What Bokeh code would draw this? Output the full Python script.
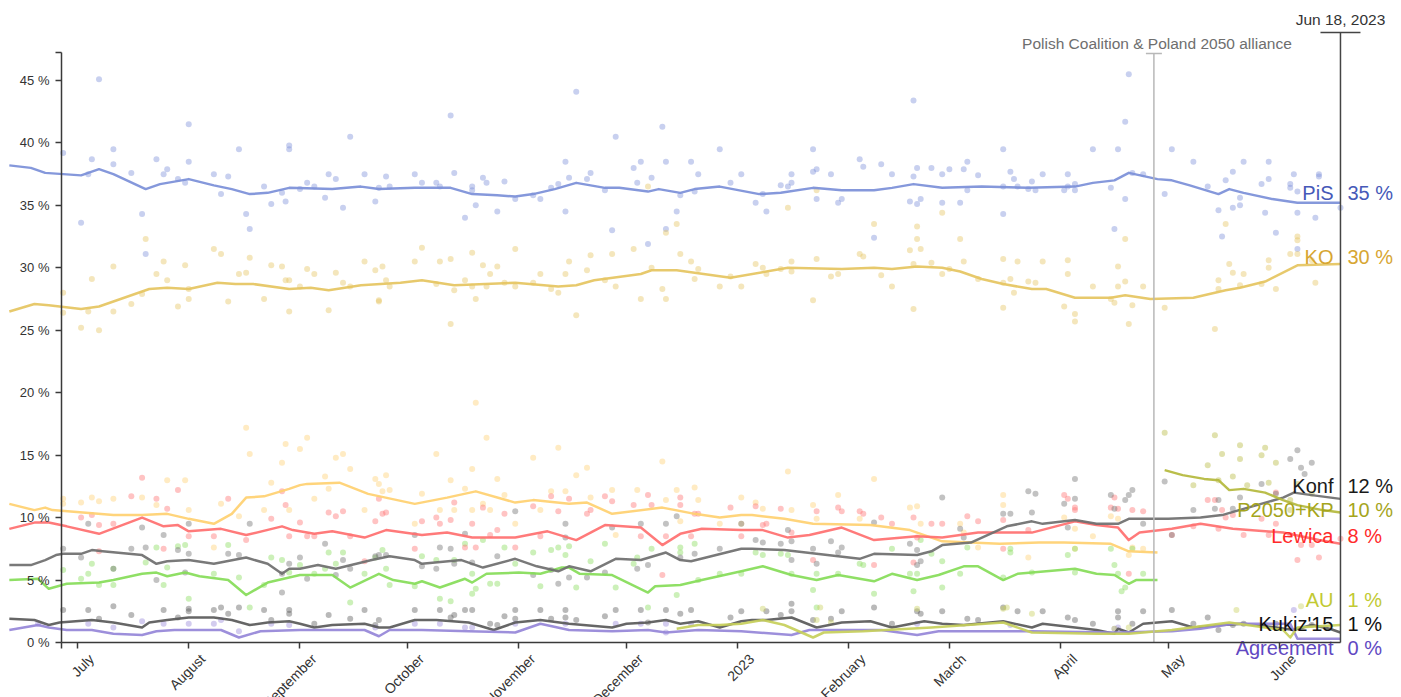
import math
from datetime import datetime, timedelta
from bokeh.plotting import figure
from bokeh.models import Range1d, LinearAxis, FixedTicker, CustomJSTickFormatter, ColumnDataSource
from bokeh.embed import file_html
from bokeh.resources import INLINE
from bokeh.core.properties import value

# ---------------------------------------------------------------- data
BASE_DATE = "2022-07-01"          # poll/trend days are counted from this date
LAST_DATE = "2023-06-18"
ALLIANCE_DATE = "2023-04-27"
ALLIANCE_TEXT = "Polish Coalition & Poland 2050 alliance"

month_ticks = ["2022-07-01", "2022-08-01", "2022-09-01", "2022-10-01", "2022-11-01", "2022-12-01",
               "2023-01-01", "2023-02-01", "2023-03-01", "2023-04-01", "2023-05-01", "2023-06-01"]
month_labels = ["July", "August", "September", "October", "November", "December",
                "2023", "February", "March", "April", "May", "June"]
y_ticks = [0, 5, 10, 15, 20, 25, 30, 35, 40, 45]

# --- PiS
pis_trend_day = [-19, -13, -9, -4, 1, 6, 10, 19, 23, 31, 38, 43, 48, 53, 59, 71, 79, 84, 94, 104,
                 110, 117, 122, 127, 133, 139, 147, 151, 159, 162, 168, 172, 179, 190, 196, 205, 213, 222, 227, 233,
                 241, 252, 265, 278, 283, 289, 293, 301, 305, 310, 318, 321, 325, 333, 340, 352]
pis_trend_val = [38.2, 38.0, 37.6, 37.5, 37.4, 37.9, 37.5, 36.3, 36.7, 37.1, 36.6, 36.3, 35.9, 36.0, 36.4, 36.3, 36.5, 36.3, 36.4, 36.4,
                 35.9, 35.8, 35.7, 35.9, 36.3, 36.8, 36.4, 36.4, 36.1, 36.3, 36.0, 36.3, 36.5, 35.9, 36.0, 36.4, 36.2, 36.2, 36.4, 36.7,
                 36.4, 36.5, 36.4, 36.5, 36.8, 37.0, 37.6, 37.1, 37.0, 36.6, 35.9, 36.3, 36.0, 35.5, 35.2, 35.2]
pis_poll_day = [-4, 1, 3, 4, 6, 10, 10, 15, 18, 19,
                22, 24, 25, 28, 30, 31, 31, 38, 40, 42,
                45, 47, 48, 52, 54, 57, 58, 59, 59, 62,
                64, 66, 69, 70, 72, 74, 76, 80, 83, 84,
                86, 87, 94, 96, 100, 101, 104, 105, 108, 110,
                110, 111, 113, 114, 117, 119, 122, 127, 129, 132,
                134, 136, 136, 137, 139, 142, 143, 147, 149, 150,
                155, 156, 157, 159, 160, 163, 164, 164, 167, 168,
                171, 172, 173, 179, 182, 185, 189, 191, 192, 196,
                198, 199, 199, 205, 205, 206, 206, 210, 212, 213,
                218, 219, 222, 224, 227, 232, 233, 233, 234, 234,
                235, 238, 241, 241, 243, 246, 247, 248, 248, 251,
                258, 258, 258, 260, 261, 262, 265, 266, 267, 269,
                275, 276, 276, 278, 278, 283, 288, 289, 290, 292,
                292, 293, 294, 297, 303, 305, 311, 315, 318, 319,
                320, 322, 322, 324, 324, 325, 330, 331, 332, 332,
                334, 338, 338, 339, 340, 340, 340, 345, 346, 346,
                352]
pis_poll_val = [39.2, 33.6, 37.5, 38.7, 45.1, 39.5, 38.3, 37.6, 34.3, 31.1,
                38.7, 37.5, 37.9, 37.1, 36.8, 38.5, 41.5, 37.5, 35.9, 37.3,
                39.5, 34.3, 33.1, 36.5, 35.1, 36.0, 35.3, 39.8, 39.5, 36.3,
                36.8, 36.5, 35.6, 37.5, 37.1, 34.8, 40.5, 37.5, 35.3, 36.4,
                37.3, 36.5, 37.5, 36.8, 36.8, 36.5, 42.2, 37.6, 34.0, 36.5,
                36.2, 35.0, 37.2, 36.8, 34.5, 36.9, 35.5, 35.8, 35.5, 36.4,
                36.7, 38.5, 34.5, 37.2, 44.1, 37.1, 37.6, 36.2, 33.0, 40.5,
                38.0, 36.8, 38.5, 31.9, 37.2, 41.3, 38.5, 33.1, 34.5, 35.8,
                38.5, 36.1, 37.5, 39.5, 36.8, 37.5, 35.2, 35.9, 34.5, 36.6,
                36.5, 37.5, 36.8, 39.5, 37.7, 37.9, 35.5, 37.5, 35.2, 35.5,
                38.7, 38.1, 32.4, 38.3, 37.5, 35.3, 43.4, 37.3, 38.0, 35.1,
                35.5, 38.0, 37.5, 35.2, 37.9, 35.2, 37.9, 38.5, 36.2, 37.4,
                39.5, 36.5, 34.3, 37.7, 37.1, 36.5, 36.3, 36.9, 36.2, 37.5,
                36.2, 37.5, 36.5, 36.2, 36.7, 39.5, 36.4, 33.1, 39.5, 41.7,
                35.5, 45.5, 37.6, 37.5, 35.9, 39.5, 38.5, 36.5, 34.6, 32.5,
                37.0, 37.7, 34.8, 35.6, 35.0, 38.5, 36.7, 34.4, 38.5, 37.1,
                32.8, 36.7, 36.4, 37.5, 36.1, 34.4, 31.5, 34.0, 37.5, 37.3,
                34.8]

# --- KO
ko_trend_day = [-19, -12, -8, 1, 6, 12, 20, 25, 31, 39, 44, 49, 59, 65, 70, 79, 90, 96, 105, 122,
                134, 139, 144, 157, 160, 167, 182, 198, 213, 222, 227, 234, 241, 246, 252, 258, 266, 270, 278, 288,
                292, 299, 311, 320, 324, 331, 340, 352]
ko_trend_val = [26.5, 27.1, 27.0, 26.7, 26.9, 27.5, 28.3, 28.4, 28.3, 28.8, 28.7, 28.7, 28.3, 28.4, 28.2, 28.6, 28.8, 29.0, 28.6, 28.8,
                28.5, 28.6, 29.0, 29.5, 29.8, 29.8, 29.2, 30.0, 29.9, 30.0, 29.9, 30.1, 30.0, 29.7, 29.1, 28.7, 28.3, 28.3, 27.6, 27.6,
                27.8, 27.5, 27.6, 28.2, 28.4, 28.9, 30.2, 30.3]
ko_poll_day = [-4, -4, 1, 3, 4, 6, 10, 10, 15, 18,
               19, 22, 24, 25, 28, 30, 31, 31, 38, 40,
               42, 45, 47, 48, 52, 54, 57, 58, 59, 59,
               62, 64, 66, 70, 72, 74, 76, 80, 83, 84,
               84, 85, 86, 87, 94, 96, 100, 101, 104, 104,
               105, 108, 110, 110, 111, 113, 114, 115, 117, 119,
               122, 122, 127, 129, 132, 134, 136, 137, 139, 142,
               143, 147, 149, 150, 155, 157, 159, 160, 163, 164,
               164, 167, 168, 171, 172, 173, 179, 182, 185, 189,
               191, 192, 196, 198, 199, 199, 205, 206, 206, 210,
               212, 218, 219, 222, 224, 227, 232, 233, 233, 234,
               234, 235, 238, 241, 241, 243, 246, 247, 251, 258,
               258, 258, 260, 261, 262, 265, 267, 269, 275, 276,
               276, 278, 278, 283, 288, 289, 290, 290, 292, 292,
               293, 294, 297, 303, 317, 318, 318, 320, 321, 322,
               324, 325, 330, 332, 332, 334, 338, 340, 340, 340,
               344, 345]
ko_poll_val = [28.0, 26.4, 25.2, 26.5, 29.1, 25.0, 30.1, 26.5, 27.1, 27.9,
               32.3, 29.5, 30.5, 29.0, 26.9, 30.2, 28.3, 27.5, 31.5, 31.1,
               27.3, 29.5, 29.6, 30.8, 27.5, 30.2, 30.1, 29.0, 29.0, 26.5,
               28.5, 29.9, 29.5, 26.6, 29.6, 28.8, 28.5, 30.5, 29.8, 27.3,
               27.4, 30.1, 29.0, 28.5, 30.5, 31.6, 28.7, 30.5, 30.7, 25.5,
               28.2, 29.0, 31.2, 28.5, 27.5, 30.2, 28.5, 29.5, 30.1, 28.8,
               31.5, 28.5, 28.8, 29.5, 28.3, 28.0, 29.5, 30.5, 26.2, 29.8,
               31.0, 29.0, 31.1, 28.5, 31.5, 27.5, 36.5, 30.0, 28.3, 27.5,
               32.8, 33.5, 31.1, 30.5, 29.1, 29.9, 28.5, 29.3, 28.5, 30.3,
               30.0, 29.5, 29.9, 34.8, 30.5, 29.7, 27.4, 30.7, 36.2, 29.3,
               29.5, 31.1, 30.9, 33.5, 29.4, 28.5, 31.4, 26.7, 30.3, 33.3,
               32.3, 31.5, 30.4, 29.5, 34.4, 29.9, 32.3, 30.5, 29.1, 30.7,
               28.8, 26.8, 29.1, 28.0, 30.5, 28.9, 28.8, 30.5, 26.9, 30.6,
               29.5, 26.3, 25.7, 28.5, 27.5, 27.2, 30.1, 28.5, 32.3, 28.9,
               25.5, 27.0, 28.5, 26.8, 25.1, 29.0, 28.3, 33.5, 30.3, 29.6,
               28.6, 29.5, 28.7, 30.6, 30.0, 28.3, 31.1, 32.5, 32.2, 31.1,
               30.6, 28.8]

# --- Poland 2050 (until the alliance)
p2050_trend_day = [-19, -12, -9, -7, 10, 18, 25, 31, 38, 43, 47, 52, 59, 62, 64, 73, 81, 94, 103, 111,
                   122, 127, 137, 142, 149, 163, 172, 179, 185, 188, 197, 205, 221, 232, 241, 257, 268, 275, 288, 293,
                   301]
p2050_trend_val = [11.1, 10.6, 10.8, 10.6, 10.2, 10.2, 10.3, 9.9, 9.5, 10.3, 11.6, 11.7, 12.3, 12.6, 12.7, 12.8, 11.9, 11.1, 11.6, 12.1,
                   11.2, 11.4, 11.1, 11.2, 10.3, 10.8, 10.3, 10.0, 10.2, 10.2, 9.9, 9.5, 9.4, 9.0, 8.1, 7.9, 8.0, 8.0, 7.9, 7.3,
                   7.2]
p2050_poll_day = [-4, -4, 1, 4, 6, 10, 18, 22, 25, 30,
                  31, 38, 40, 45, 47, 48, 52, 54, 57, 58,
                  59, 62, 64, 66, 69, 70, 72, 74, 76, 80,
                  83, 84, 85, 86, 87, 94, 96, 100, 101, 104,
                  105, 108, 110, 110, 111, 113, 114, 115, 117, 119,
                  122, 127, 129, 132, 134, 136, 139, 142, 143, 149,
                  150, 156, 163, 164, 167, 168, 172, 173, 179, 185,
                  185, 189, 191, 198, 199, 205, 206, 212, 218, 222,
                  232, 234, 235, 246, 247, 251, 258, 258, 265, 275,
                  278, 278, 283, 288, 290, 293, 294, 297]
p2050_poll_val = [11.5, 11.1, 11.2, 11.6, 11.3, 11.5, 11.6, 11.0, 13.0, 13.0,
                  10.6, 7.6, 11.1, 10.1, 17.2, 15.1, 10.6, 12.8, 14.4, 15.9,
                  10.6, 15.5, 16.4, 11.5, 13.3, 12.3, 14.8, 15.1, 13.9, 10.6,
                  13.1, 12.7, 12.1, 13.4, 12.2, 9.5, 11.9, 15.1, 10.6, 13.0,
                  10.6, 12.3, 13.9, 10.6, 19.2, 11.1, 16.4, 10.6, 13.1, 11.8,
                  9.5, 14.8, 10.6, 12.1, 15.6, 12.1, 13.4, 14.0, 11.6, 12.2,
                  8.6, 12.2, 14.5, 11.4, 12.2, 9.7, 12.4, 11.4, 9.5, 9.5,
                  11.6, 11.2, 10.7, 13.7, 10.6, 11.0, 9.9, 11.8, 9.9, 13.1,
                  10.8, 10.9, 9.5, 9.5, 8.8, 7.6, 11.8, 11.0, 6.8, 10.0,
                  9.1, 7.5, 8.5, 10.1, 9.9, 7.0, 7.6, 7.5]

# --- Lewica
lewica_trend_day = [-19, -12, -8, -3, 6, 18, 24, 28, 31, 40, 47, 57, 60, 66, 71, 80, 86, 96, 103, 110,
                    122, 131, 139, 147, 157, 163, 168, 174, 185, 191, 198, 204, 213, 222, 234, 241, 251, 266, 278, 284,
                    290, 293, 296, 305, 313, 322, 336, 346, 352]
lewica_trend_val = [9.1, 9.6, 9.6, 9.3, 8.7, 10.0, 9.3, 9.4, 8.9, 9.1, 8.6, 9.3, 9.0, 8.7, 8.9, 8.4, 9.0, 8.6, 8.8, 8.4,
                    8.4, 8.9, 8.2, 9.4, 9.2, 7.8, 8.7, 9.1, 9.0, 9.0, 8.4, 8.6, 9.2, 8.2, 8.5, 8.4, 8.8, 8.8, 9.7, 9.4,
                    9.2, 8.2, 8.8, 9.1, 9.5, 9.1, 8.8, 8.2, 7.9]
lewica_poll_day = [1, 4, 6, 6, 10, 15, 18, 22, 24, 25,
                   28, 31, 38, 42, 47, 54, 57, 58, 59, 62,
                   64, 66, 70, 72, 74, 76, 80, 83, 84, 85,
                   86, 94, 96, 100, 101, 104, 105, 108, 110, 111,
                   113, 115, 117, 119, 122, 127, 129, 132, 134, 137,
                   142, 143, 147, 149, 155, 157, 159, 160, 163, 164,
                   168, 168, 171, 172, 173, 182, 185, 189, 191, 192,
                   196, 199, 205, 206, 212, 213, 218, 219, 222, 224,
                   227, 233, 233, 234, 238, 241, 248, 251, 258, 258,
                   265, 275, 276, 278, 278, 288, 289, 290, 293, 294,
                   297, 305, 311, 315, 317, 318, 319, 320, 322, 325,
                   330, 332, 334, 334, 338, 340, 341, 344, 346, 352]
lewica_poll_val = [10.0, 10.2, 9.4, 7.3, 9.5, 11.7, 13.2, 11.5, 7.5, 10.7,
                   12.2, 8.5, 8.5, 11.5, 8.2, 9.9, 12.1, 11.0, 8.5, 9.6,
                   8.5, 8.5, 10.4, 10.1, 10.5, 8.5, 6.5, 9.7, 11.5, 10.3,
                   10.4, 7.5, 9.7, 10.0, 9.5, 9.8, 11.2, 7.6, 9.5, 7.6,
                   10.8, 8.6, 9.0, 10.3, 7.6, 10.9, 8.5, 11.7, 10.5, 11.5,
                   10.3, 10.6, 11.7, 11.3, 11.0, 8.5, 11.8, 11.0, 5.4, 8.5,
                   11.6, 11.0, 8.5, 10.3, 10.3, 10.8, 8.5, 10.9, 9.4, 9.5,
                   10.7, 8.8, 6.6, 10.5, 10.8, 10.5, 10.5, 10.3, 6.2, 10.0,
                   9.5, 10.0, 6.4, 8.4, 9.5, 9.5, 10.1, 9.7, 9.8, 7.5,
                   9.0, 11.8, 11.5, 10.8, 10.6, 10.8, 11.6, 10.7, 5.5, 10.6,
                   10.5, 8.6, 9.3, 11.4, 11.4, 9.1, 10.6, 10.0, 10.2, 8.6,
                   9.9, 8.6, 12.0, 9.5, 8.6, 6.6, 7.8, 7.8, 6.8, 8.3]

# --- Konfederacja
konf_trend_day = [-19, -13, -9, -6, -4, 1, 4, 7, 18, 22, 25, 31, 38, 47, 53, 57, 59, 62, 67, 72,
                  82, 87, 94, 96, 107, 113, 122, 128, 134, 137, 143, 150, 157, 164, 168, 171, 185, 188, 197, 206,
                  218, 222, 234, 238, 241, 249, 259, 266, 269, 278, 284, 290, 293, 304, 313, 319, 325, 336, 339, 344,
                  352]
konf_trend_val = [6.2, 6.2, 6.6, 7.0, 7.1, 7.1, 7.4, 7.3, 7.0, 6.3, 6.5, 6.6, 6.3, 6.8, 6.3, 5.5, 5.9, 5.9, 6.2, 5.9,
                  6.6, 6.9, 6.6, 6.3, 6.6, 6.0, 6.7, 6.1, 5.7, 6.1, 5.7, 6.7, 6.6, 7.2, 6.6, 6.5, 7.5, 7.5, 7.4, 7.1,
                  6.7, 7.1, 7.0, 7.3, 7.8, 8.0, 9.3, 9.7, 9.5, 9.8, 9.5, 9.5, 9.9, 9.9, 10.0, 10.2, 10.7, 11.6, 12.0, 11.8,
                  11.5]
konf_poll_day = [-4, 1, 3, 10, 15, 18, 19, 22, 24, 28,
                 30, 31, 31, 42, 45, 48, 57, 57, 59, 62,
                 64, 69, 72, 74, 76, 83, 84, 86, 94, 96,
                 100, 101, 104, 105, 108, 110, 117, 122, 127, 132,
                 134, 136, 136, 137, 142, 147, 149, 156, 157, 159,
                 164, 167, 168, 172, 179, 185, 189, 191, 196, 198,
                 199, 199, 205, 206, 210, 212, 213, 222, 232, 234,
                 234, 235, 241, 246, 247, 258, 260, 265, 266, 267,
                 275, 276, 278, 278, 288, 289, 292, 293, 294, 297,
                 303, 305, 311, 317, 318, 322, 324, 330, 334, 338,
                 340, 341, 342, 344]
konf_poll_val = [7.5, 6.8, 9.5, 5.9, 7.5, 9.2, 7.6, 5.0, 8.6, 7.4,
                 5.6, 9.5, 7.1, 7.1, 7.0, 9.5, 4.0, 5.5, 6.3, 6.8,
                 5.1, 7.9, 5.4, 6.6, 5.9, 6.9, 7.0, 7.0, 8.6, 6.1,
                 5.9, 7.6, 7.5, 6.3, 8.7, 6.4, 6.9, 10.5, 5.4, 5.8,
                 4.7, 9.5, 8.4, 5.2, 5.2, 5.6, 9.2, 5.9, 9.5, 6.2,
                 9.5, 10.1, 6.8, 7.1, 7.5, 9.5, 8.2, 8.0, 7.9, 9.0,
                 8.1, 6.6, 7.5, 6.3, 8.1, 7.2, 7.6, 9.6, 7.9, 7.4,
                 6.2, 6.5, 11.6, 9.1, 8.4, 10.3, 10.3, 12.1, 10.4, 11.9,
                 11.1, 9.2, 13.1, 11.5, 11.8, 10.7, 11.4, 11.8, 12.2, 9.5,
                 12.9, 8.6, 10.6, 10.7, 11.4, 10.7, 11.6, 12.7, 11.9, 14.7,
                 15.4, 14.0, 13.5, 14.4]

# --- Poland 2050 + Polish Coalition (after the alliance)
p2050kp_trend_day = [303, 308, 314, 318, 321, 325, 331, 336, 340, 347, 352]
p2050kp_trend_val = [13.8, 13.4, 13.1, 13.0, 12.2, 12.3, 12.0, 11.4, 11.0, 10.6, 10.4]
p2050kp_poll_day = [303, 311, 315, 317, 318, 319, 322, 324, 324, 326,
                    330, 331, 332, 334, 338, 338, 340, 344]
p2050kp_poll_val = [16.8, 12.6, 14.2, 16.6, 13.0, 15.1, 13.3, 15.8, 14.7, 12.6,
                    15.0, 15.6, 12.8, 14.4, 11.4, 10.6, 12.7, 11.9]

# --- PSL (until the alliance)
psl_trend_day = [-19, -11, -8, -3, 6, 10, 18, 22, 25, 30, 34, 42, 47, 53, 59, 62, 64, 71, 76, 84,
                 88, 94, 96, 101, 108, 110, 114, 123, 129, 135, 137, 140, 149, 154, 159, 161, 168, 174, 185, 191,
                 199, 206, 212, 222, 227, 234, 240, 247, 251, 258, 262, 278, 284, 289, 293, 295, 301]
psl_trend_val = [5.0, 5.1, 4.3, 4.7, 4.8, 5.0, 5.5, 5.6, 5.3, 5.6, 5.3, 5.0, 3.8, 4.8, 5.2, 5.4, 5.4, 5.4, 4.4, 5.5,
                 5.0, 4.7, 4.9, 4.4, 5.1, 4.8, 5.5, 5.6, 5.5, 6.0, 6.0, 5.5, 5.4, 4.7, 4.0, 4.5, 4.6, 5.0, 5.7, 6.1,
                 5.4, 5.0, 5.4, 4.9, 5.5, 5.0, 5.4, 6.1, 6.1, 5.0, 5.5, 5.9, 5.5, 5.4, 4.7, 5.0, 5.0]
psl_poll_day = [-4, 1, 3, 4, 6, 10, 10, 19, 22, 24,
                25, 28, 30, 31, 38, 42, 45, 48, 52, 54,
                57, 59, 62, 66, 69, 70, 72, 74, 76, 80,
                83, 85, 86, 87, 94, 96, 100, 101, 104, 105,
                108, 110, 110, 111, 113, 115, 117, 119, 122, 127,
                129, 132, 134, 136, 137, 139, 143, 147, 150, 155,
                156, 159, 160, 167, 168, 168, 172, 173, 179, 185,
                189, 191, 196, 198, 199, 205, 206, 206, 212, 218,
                219, 222, 227, 232, 233, 234, 235, 238, 241, 241,
                246, 248, 258, 260, 260, 266, 276, 278, 278, 288,
                289, 290, 291, 292, 294, 297]
psl_poll_val = [5.8, 5.1, 5.5, 6.3, 4.6, 5.9, 4.6, 6.4, 7.6, 4.6,
                6.0, 7.7, 7.8, 3.5, 5.5, 7.8, 5.2, 2.8, 4.6, 6.8,
                6.6, 5.6, 6.2, 5.5, 5.9, 7.2, 6.3, 7.2, 3.2, 5.5,
                6.8, 7.4, 5.9, 4.6, 4.5, 6.9, 6.6, 3.5, 3.3, 6.6,
                7.9, 5.5, 3.9, 4.3, 8.2, 4.7, 4.7, 7.6, 6.3, 7.2,
                4.5, 7.4, 7.6, 7.0, 7.7, 4.4, 6.5, 7.9, 4.4, 6.3,
                6.8, 2.8, 7.5, 3.8, 7.6, 7.2, 7.9, 5.0, 5.5, 5.5,
                7.2, 7.0, 7.1, 7.0, 5.5, 4.2, 5.5, 2.8, 5.5, 6.3,
                6.2, 3.9, 7.5, 5.5, 4.1, 5.5, 8.2, 7.1, 6.5, 4.4,
                5.5, 7.6, 5.2, 7.5, 7.2, 5.6, 7.0, 5.6, 7.5, 7.5,
                6.2, 5.5, 4.1, 4.4, 7.5, 5.5]

# --- Kukiz'15
kukiz_trend_day = [-19, -12, -8, -5, 4, 10, 18, 20, 25, 31, 38, 43, 48, 53, 59, 62, 66, 71, 80, 84,
                   87, 94, 100, 109, 116, 122, 129, 137, 149, 153, 159, 164, 168, 173, 179, 185, 188, 192, 199, 206,
                   213, 221, 227, 236, 241, 247, 258, 266, 269, 284, 289, 290, 293, 297, 305, 311, 319, 325, 334, 339,
                   344, 349, 352]
kukiz_trend_val = [1.9, 1.8, 1.4, 1.6, 1.8, 1.6, 1.2, 1.6, 1.8, 2.0, 2.0, 1.8, 1.4, 1.6, 1.7, 1.5, 1.2, 1.4, 1.5, 1.2,
                   1.2, 1.8, 1.8, 1.6, 1.0, 1.6, 1.8, 1.5, 1.2, 1.5, 1.6, 1.8, 1.5, 1.7, 1.2, 1.7, 1.8, 1.8, 2.0, 1.2,
                   1.6, 1.7, 1.2, 1.7, 1.5, 1.4, 1.7, 1.2, 1.5, 1.0, 0.7, 1.1, 0.8, 1.5, 1.7, 1.2, 1.4, 1.5, 1.2, 1.0,
                   1.4, 1.1, 0.8]
kukiz_poll_day = [-4, 3, 6, 10, 15, 24, 28, 31, 31, 38,
                  40, 42, 45, 52, 54, 59, 59, 66, 70, 76,
                  80, 83, 84, 94, 101, 104, 105, 108, 110, 115,
                  117, 119, 122, 122, 129, 132, 136, 136, 139, 147,
                  150, 157, 159, 164, 168, 171, 182, 185, 192, 196,
                  199, 199, 205, 210, 213, 222, 227, 234, 235, 241,
                  248, 251, 258, 262, 269, 276, 278, 283, 290, 290,
                  294, 297, 305, 311, 315, 318, 322, 325, 331, 334,
                  344]
kukiz_poll_val = [2.6, 2.6, 1.9, 2.9, 2.2, 2.6, 2.0, 2.7, 2.5, 2.6,
                  2.8, 2.3, 2.8, 2.6, 1.8, 2.6, 2.3, 1.5, 2.2, 1.9,
                  2.6, 1.4, 1.8, 2.6, 2.6, 2.0, 2.2, 2.6, 2.6, 1.5,
                  1.4, 2.1, 2.6, 1.9, 2.6, 1.9, 2.6, 2.0, 1.8, 2.1,
                  2.6, 2.6, 1.6, 2.6, 2.3, 2.6, 2.0, 2.5, 2.5, 2.2,
                  3.1, 2.5, 1.8, 1.9, 2.5, 2.8, 1.5, 2.5, 2.3, 2.5,
                  1.9, 1.8, 2.8, 2.5, 2.5, 2.0, 1.8, 1.5, 2.5, 2.0,
                  1.5, 2.5, 2.6, 1.5, 2.0, 1.0, 1.4, 1.5, 1.4, 1.5,
                  1.4]

# --- Agreement (Porozumienie)
agree_trend_day = [-19, -11, -8, -3, 4, 10, 18, 22, 27, 40, 45, 51, 62, 75, 80, 84, 87, 96, 109, 122,
                   129, 137, 149, 159, 164, 173, 185, 199, 204, 224, 234, 240, 266, 289, 305, 313, 322, 338, 340, 352]
agree_trend_val = [1.0, 1.4, 1.2, 1.0, 1.0, 0.7, 0.6, 0.9, 1.0, 1.0, 0.4, 0.9, 1.0, 1.0, 1.0, 0.5, 1.0, 1.0, 0.9, 0.8,
                   1.5, 1.0, 0.9, 1.0, 0.8, 1.0, 0.9, 0.6, 1.0, 1.0, 0.6, 0.9, 0.9, 0.8, 0.9, 1.1, 1.5, 1.5, 0.3, 0.3]
agree_poll_day = [-11, 3, 10, 18, 24, 31, 38, 40, 45, 54,
                  59, 83, 94, 101, 108, 110, 122, 136, 150, 157,
                  164, 164, 171, 234, 260, 289, 290, 339]
agree_poll_val = [1.5, 1.5, 1.2, 1.7, 1.5, 1.5, 1.5, 1.8, 0.9, 1.5,
                  1.4, 1.2, 1.5, 1.5, 1.2, 1.2, 1.5, 1.5, 1.5, 1.5,
                  1.5, 0.8, 1.5, 1.5, 1.4, 1.1, 1.2, 2.6]

# --- AU (Agrounia)
au_trend_day = [167, 173, 179, 185, 191, 197, 205, 208, 219, 238, 258, 266, 284, 293, 305, 321, 336, 338, 340, 352]
au_trend_val = [1.1, 1.4, 1.4, 1.5, 1.8, 1.4, 0.4, 0.8, 0.9, 1.2, 1.6, 0.8, 0.7, 0.7, 1.0, 1.6, 1.0, 0.4, 1.2, 1.4]
au_poll_day = [191, 206, 207, 210, 234, 258, 259, 266, 289, 293, 323, 341]
au_poll_val = [2.7, 1.8, 2.8, 1.6, 2.7, 2.7, 2.8, 2.3, 1.1, 1.2, 2.6, 2.9]

# ---------------------------------------------------------------- styles / layout
FONT = "Liberation Sans"
W, H = 1401, 697
PX_PER_DAY = 3.588
PX_PER_PCT = 12.49
X_BASE_PX = 77.0       # BASE_DATE sits this far from the frame's left edge
Y_ZERO_PX = 642.0      # 0 % sits this far below the frame's top edge
YAXIS_PX = 61.0        # position of the y axis inside the frame
Y_AXIS_TOP = 47.24
ALLI_TOP = 47.16
LAST_TOP = 48.84

series = [
    # key, trend days, trend vals, poll days, poll vals, line colour, label, label colour, label y
    ("pis", pis_trend_day, pis_trend_val, pis_poll_day, pis_poll_val, "#7b8fd8", "PiS", "#4659b8", 35.95),
    ("ko", ko_trend_day, ko_trend_val, ko_poll_day, ko_poll_val, "#e5c45f", "KO", "#d7a632", 30.85),
    ("p2050", p2050_trend_day, p2050_trend_val, p2050_poll_day, p2050_poll_val, "#ffd070", None, None, None),
    ("psl", psl_trend_day, psl_trend_val, psl_poll_day, psl_poll_val, "#86dc58", None, None, None),
    ("lewica", lewica_trend_day, lewica_trend_val, lewica_poll_day, lewica_poll_val, "#ff6f6f", "Lewica", "#ff2a2a", 8.49),
    ("konf", konf_trend_day, konf_trend_val, konf_poll_day, konf_poll_val, "#6e6e6e", "Konf", "#1a1a1a", 12.57),
    ("kukiz", kukiz_trend_day, kukiz_trend_val, kukiz_poll_day, kukiz_poll_val, "#595959", "Kukiz'15", "#111111", 1.52),
    ("agree", agree_trend_day, agree_trend_val, agree_poll_day, agree_poll_val, "#9585d8", "Agreement", "#6148c2", -0.48),
    ("au", au_trend_day, au_trend_val, au_poll_day, au_poll_val, "#c7cf5a", "AU", "#c2ca34", 3.44),
    ("p2050kp", p2050kp_trend_day, p2050kp_trend_val, p2050kp_poll_day, p2050kp_poll_val, "#b4b83c", "P2050+KP", "#a5a51c", 10.57),
]

base = datetime.fromisoformat(BASE_DATE)
EPOCH = datetime(1970, 1, 1)


def ddate(d):
    return base + timedelta(days=d)


def dates(days):
    return [ddate(d) for d in days]


def ms(t):
    return (t - EPOCH).total_seconds() * 1000.0


x_start = ddate(-X_BASE_PX / PX_PER_DAY)
x_end = ddate((W - X_BASE_PX) / PX_PER_DAY)
y_end = Y_ZERO_PX / PX_PER_PCT
y_start = -(H - Y_ZERO_PX) / PX_PER_PCT
yaxis_t = ddate((YAXIS_PX - X_BASE_PX) / PX_PER_DAY)
last_t = datetime.fromisoformat(LAST_DATE)
alli_t = datetime.fromisoformat(ALLIANCE_DATE)
month_t = [datetime.fromisoformat(s) for s in month_ticks]

p = figure(width=W, height=H, x_range=Range1d(x_start, x_end), y_range=Range1d(y_start, y_end),
           x_axis_type=None, y_axis_type=None, output_backend="svg", toolbar_location=None,
           min_border=0)
p.outline_line_color = None
p.background_fill_color = "white"
p.border_fill_color = "white"

# axes ------------------------------------------------------------
ytick_fmt = CustomJSTickFormatter(code="""
const k = Math.round(tick / 5) * 5;
return Math.abs(tick - k) < 1e-6 ? k.toFixed(0) + " %" : "";
""")
yaxis = LinearAxis(fixed_location=ms(yaxis_t), bounds=(0, Y_AXIS_TOP),
                   ticker=FixedTicker(ticks=y_ticks + [Y_AXIS_TOP]), formatter=ytick_fmt)
xaxis = LinearAxis(fixed_location=0, bounds=(ms(yaxis_t), ms(last_t)),
                   ticker=FixedTicker(ticks=[ms(yaxis_t)] + [ms(t) for t in month_t]),
                   formatter=CustomJSTickFormatter(code='return "";'))
for ax in (yaxis, xaxis):
    ax.axis_line_color = "#3a3a3a"
    ax.axis_line_width = 1.5
    ax.major_tick_line_color = "#3a3a3a"
    ax.major_tick_line_width = 1.5
    ax.major_tick_out = 6
    ax.major_tick_in = 0
    ax.minor_tick_line_color = None
    ax.major_label_text_font = FONT
    ax.major_label_text_font_size = "13px"
    ax.major_label_text_color = "#333333"
    ax.major_label_standoff = 6
p.add_layout(yaxis, "left")
p.add_layout(xaxis, "below")

# polls (dots) ------------------------------------------------------
for key, td, tv, pd, pv, col, *_ in series:
    p.scatter(x=dates(pd), y=pv, size=6, fill_color=col, fill_alpha=0.42, line_color=None)

# trend lines -------------------------------------------------------
for key, td, tv, pd, pv, col, *_ in series:
    p.line(x=dates(td), y=tv, line_color=col, line_width=2.5, line_alpha=0.92, line_join="round")

# month labels (rotated, end of text just right of the tick) ----------
p.text(x=month_t, y=[0] * len(month_t), text=month_labels, angle=math.pi / 4,
       x_offset=14, y_offset=14, text_align="right", text_baseline="middle",
       text_font=value(FONT), text_font_size="14px", text_color="#333333")

# event markers -----------------------------------------------------
cap_a = timedelta(days=8 / PX_PER_DAY)
cap_l = timedelta(days=20 / PX_PER_DAY)
p.segment(x0=[alli_t, alli_t - cap_a], y0=[0, ALLI_TOP], x1=[alli_t, alli_t + cap_a], y1=[ALLI_TOP, ALLI_TOP],
          line_color="#b8b8b8", line_width=1.5)
p.segment(x0=[last_t, last_t - cap_l], y0=[0, LAST_TOP], x1=[last_t, last_t + cap_l], y1=[LAST_TOP, LAST_TOP],
          line_color="#444444", line_width=1.5)
p.text(x=[alli_t], y=[ALLI_TOP + 0.8], text=[ALLIANCE_TEXT], x_offset=3,
       text_font=value(FONT), text_font_size="15.5px", text_color="#6e6e6e",
       text_align="center", text_baseline="middle")
p.text(x=[last_t], y=[LAST_TOP + 1.04], text=[last_t.strftime("%b %d, %Y")],
       text_font=value(FONT), text_font_size="15.5px", text_color="#333333",
       text_align="center", text_baseline="middle")

# end labels ----------------------------------------------------------
lab = [s for s in series if s[6] is not None]
src = ColumnDataSource(dict(
    x=[last_t] * len(lab),
    y=[s[8] for s in lab],
    name=[s[6] for s in lab],
    pct=["%d %%" % round(s[2][-1]) for s in lab],
    color=[s[7] for s in lab],
))
p.text(x="x", y="y", text="name", source=src, x_offset=-7, text_align="right", text_baseline="middle",
       text_font=value(FONT), text_font_size="20px", text_color="color")
p.text(x="x", y="y", text="pct", source=src, x_offset=7, text_align="left", text_baseline="middle",
       text_font=value(FONT), text_font_size="20px", text_color="color")

open("out.html", "w").write(file_html(p, INLINE))
